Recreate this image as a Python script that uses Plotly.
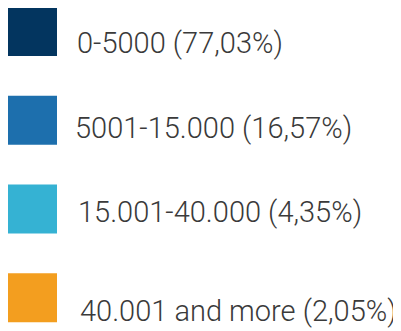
import plotly.graph_objects as go

categories = ["0-5000", "5001-15.000", "15.001-40.000", "40.001 and more"]
shares = ["77,03%", "16,57%", "4,35%", "2,05%"]
colors = ["#03355F", "#1D6FAD", "#35B2D3", "#F39E1F"]

labels = [f"{c} ({s})" for c, s in zip(categories, shares)]
idx = list(range(len(categories)))

# small per-label nudges (pixels) to mimic the reference's uneven label placement
label_dx = [42, 40, 43.5, 45]
label_dy = [-11.2, -8, -3.2, -13]

fig = go.Figure()
fig.add_trace(go.Scatter(
    x=[0] * len(idx), y=idx, mode="markers",
    marker=dict(symbol="square", size=49, color=colors, line=dict(width=0)),
    hoverinfo="skip", showlegend=False,
))

for i, lab, dx, dy in zip(idx, labels, label_dx, label_dy):
    fig.add_annotation(
        x=0, y=i, xref="x", yref="y", text=lab, showarrow=False,
        xanchor="left", yanchor="middle", xshift=dx, yshift=dy,
        font=dict(family="Roboto", size=29, color="#3a3a3a", weight=300),
    )

# page body has an 8px margin, so the figure is 8px smaller than the window
fig.update_layout(
    width=393, height=323,
    margin=dict(l=0, r=0, t=0, b=0),
    paper_bgcolor="white", plot_bgcolor="white",
    xaxis=dict(range=[-24.5, 368.5], visible=False, fixedrange=True),
    yaxis=dict(range=[3.376, -0.265], visible=False, fixedrange=True),
    showlegend=False,
)

fig.write_html("out.html")
